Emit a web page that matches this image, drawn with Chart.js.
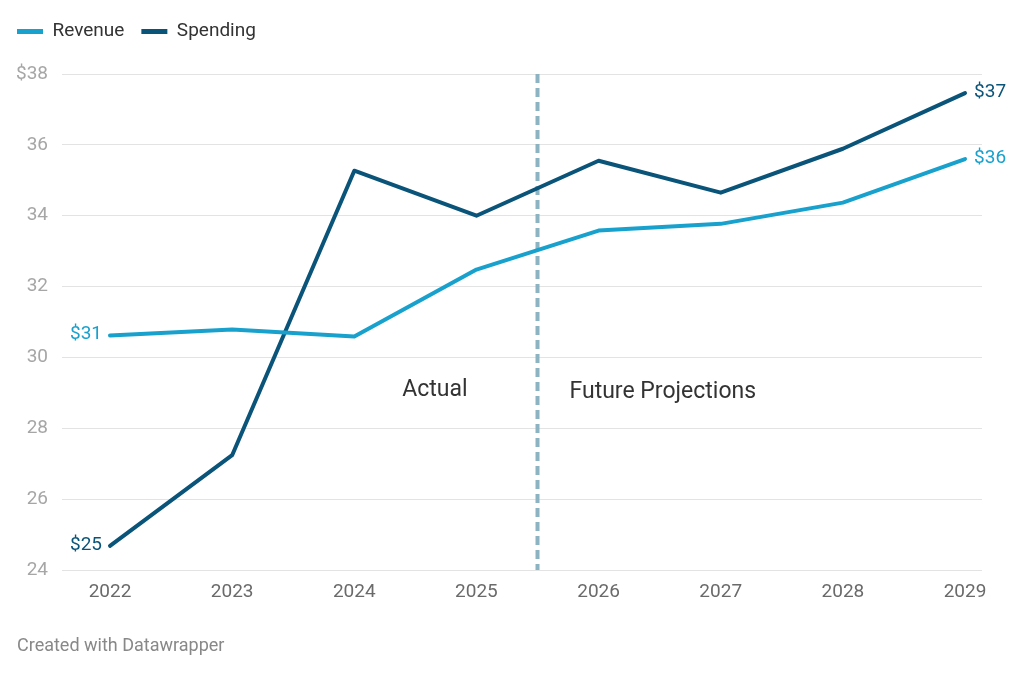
<!DOCTYPE html>
<html>
<head>
<meta charset="utf-8">
<script src="https://cdn.jsdelivr.net/npm/chart.js@4"></script>
<style>
  html, body { margin: 0; padding: 0; background: #fff; }
  #wrap { width: 1024px; height: 674px; }
</style>
</head>
<body>
<div id="wrap"><canvas id="chart" width="1024" height="674"></canvas></div>
<script>
// Daten
const years = [2022, 2023, 2024, 2025, 2026, 2027, 2028, 2029];
const revenue = [30.62, 30.79, 30.59, 32.48, 33.58, 33.77, 34.37, 35.6];
const spending = [24.68, 27.24, 35.27, 34.0, 35.55, 34.65, 35.89, 37.46];
const yTicks = [24, 26, 28, 30, 32, 34, 36, 38];
const dividerYear = 2025.5;
const revenueColor = '#18a1cd';
const spendingColor = '#0a5479';
const FONT = 'Roboto, sans-serif';

// Legende etwas höher machen, damit die Zeichenfläche bei y=73 beginnt
const legendSpacer = {
    id: 'legendSpacer',
    beforeInit(chart) {
        const origFit = chart.legend.fit;
        chart.legend.fit = function () {
            origFit.bind(chart.legend)();
            this.height += 23;
        };
    }
};

// Beschriftungen, Trennlinie und Quelle
const extrasPlugin = {
    id: 'extras',
    beforeDatasetsDraw(chart) {
        const { ctx, chartArea, scales } = chart;
        const x = scales.x.getPixelForValue(dividerYear);
        ctx.save();
        ctx.strokeStyle = '#8cb3c2';
        ctx.lineWidth = 4;
        ctx.setLineDash([9, 5]);
        ctx.beginPath();
        ctx.moveTo(x, chartArea.top);
        ctx.lineTo(x, chartArea.bottom);
        ctx.stroke();
        ctx.restore();
    },
    afterDatasetsDraw(chart) {
        const { ctx, scales } = chart;
        ctx.save();
        ctx.font = '19px ' + FONT;
        ctx.textBaseline = 'middle';
        chart.data.datasets.forEach((ds, i) => {
            const pts = chart.getDatasetMeta(i).data;
            const first = pts[0], last = pts[pts.length - 1];
            ctx.fillStyle = ds.borderColor;
            ctx.textAlign = 'right';
            ctx.fillText('$' + Math.round(ds.data[0].y), first.x - 8, first.y - 1);
            ctx.textAlign = 'left';
            ctx.fillText('$' + Math.round(ds.data[ds.data.length - 1].y), last.x + 9, last.y - 1);
        });
        const yAnn = scales.y.getPixelForValue(29.07);
        const xDiv = scales.x.getPixelForValue(dividerYear);
        ctx.fillStyle = '#333333';
        ctx.font = '23px ' + FONT;
        ctx.textAlign = 'right';
        ctx.fillText('Actual', xDiv - 70, yAnn);
        ctx.textAlign = 'left';
        ctx.fillText('Future Projections', xDiv + 32, yAnn + 2);
        ctx.fillStyle = '#888888';
        ctx.font = '18px ' + FONT;
        ctx.fillText('Created with Datawrapper', 17, 646);
        ctx.restore();
    }
};

const ctx = document.getElementById('chart').getContext('2d');
new Chart(ctx, {
    type: 'line',
    data: {
        datasets: [
            {
                label: 'Revenue',
                data: years.map((y, i) => ({ x: y, y: revenue[i] })),
                borderColor: revenueColor,
                backgroundColor: revenueColor,
                borderWidth: 4,
                pointRadius: 0,
                tension: 0,
                borderCapStyle: 'round',
                borderJoinStyle: 'round',
            },
            {
                label: 'Spending',
                data: years.map((y, i) => ({ x: y, y: spending[i] })),
                borderColor: spendingColor,
                backgroundColor: spendingColor,
                borderWidth: 4,
                pointRadius: 0,
                tension: 0,
                borderCapStyle: 'round',
                borderJoinStyle: 'round',
            }
        ]
    },
    options: {
        responsive: false,
        animation: false,
        devicePixelRatio: 1,
        layout: { padding: { left: 0, right: 42, top: 5, bottom: 0 } },
        plugins: {
            legend: {
                position: 'top',
                align: 'start',
                labels: {
                    color: '#333333',
                    font: { size: 19, family: FONT },
                    boxWidth: 26,
                    boxHeight: 5,
                    useBorderRadius: true,
                    borderRadius: 2.5,
                    padding: 17,
                    generateLabels(chart) {
                        return chart.data.datasets.map((ds, i) => ({
                            text: ds.label,
                            fillStyle: ds.borderColor,
                            strokeStyle: ds.borderColor,
                            lineWidth: 0,
                            fontColor: '#333333',
                            datasetIndex: i,
                            hidden: false,
                        }));
                    }
                }
            },
            tooltip: { enabled: false }
        },
        scales: {
            x: {
                type: 'linear',
                min: 2021.607,
                max: 2029.139,
                afterBuildTicks(scale) {
                    scale.ticks = years.map(v => ({ value: v }));
                },
                afterFit(scale) { scale.height = 104; },
                grid: { display: false, drawTicks: false },
                border: { display: false },
                ticks: {
                    color: '#6a6a6a',
                    font: { size: 19, family: FONT },
                    padding: 11,
                    maxRotation: 0,
                    autoSkip: false,
                    callback: v => String(v)
                }
            },
            y: {
                min: 24,
                max: 38,
                afterBuildTicks(scale) {
                    scale.ticks = yTicks.map(v => ({ value: v }));
                },
                afterFit(scale) { scale.width = 62; },
                grid: { color: '#e3e3e3', lineWidth: 1, drawTicks: false },
                border: { display: false },
                ticks: {
                    color: '#a6a6a6',
                    font: { size: 19, family: FONT },
                    padding: 14,
                    callback: v => v === 38 ? '$38' : String(v)
                }
            }
        }
    },
    plugins: [legendSpacer, extrasPlugin]
});
</script>
</body>
</html>
